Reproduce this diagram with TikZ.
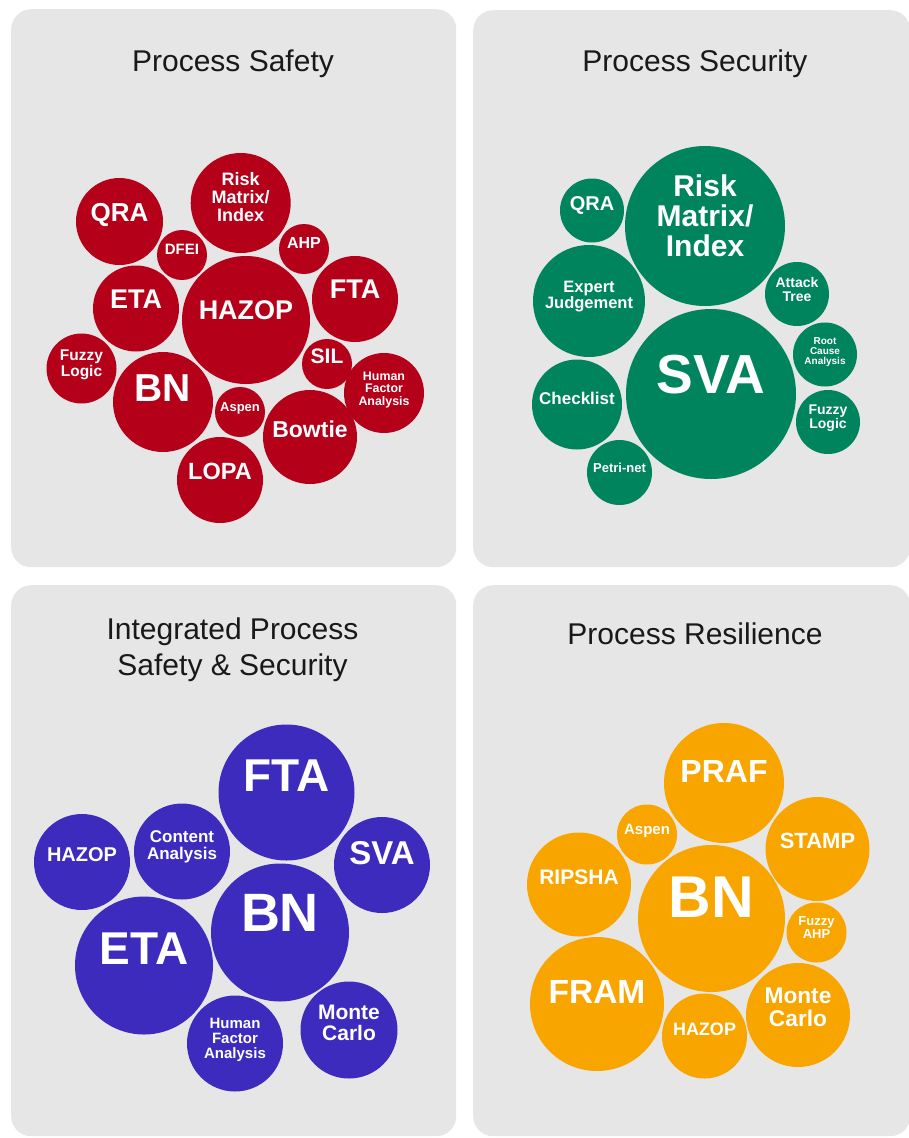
\documentclass[tikz,border=0pt]{standalone}
\usepackage{fontspec}
\setmainfont{Liberation Sans}

\definecolor{panelgray}{RGB}{230,230,230}
\definecolor{titleblack}{RGB}{25,25,25}
\definecolor{safetyred}{RGB}{181,0,26}
\definecolor{securitygreen}{RGB}{0,132,94}
\definecolor{integratedblue}{RGB}{61,43,190}
\definecolor{resilienceorange}{RGB}{249,165,0}

\tikzstyle{panel} = [
    rectangle, rounded corners=20pt, fill=panelgray, 
    anchor=north west, inner sep=0pt
]
\tikzstyle{title} = [
    font=\fontsize{30}{36}\selectfont, text=titleblack, align=center, anchor=base
]
\tikzstyle{bubble} = [circle, inner sep=0pt, text=white, align=center]
\tikzstyle{safety} = [bubble, fill=safetyred]
\tikzstyle{security} = [bubble, fill=securitygreen]
\tikzstyle{integrated} = [bubble, fill=integratedblue]
\tikzstyle{resilience} = [bubble, fill=resilienceorange]
\tikzset{txt/.style={font=\bfseries\fontsize{#1}{#1}\selectfont, text depth=0.72*#1}}

\begin{document}
\begin{tikzpicture}[x=1pt, y=-1pt]

\useasboundingbox (0,0) rectangle (908,1138);

% Paneles
\node (p1) [panel, minimum width=445, minimum height=558] at (11,9)   {};
\node (p2) [panel, minimum width=437, minimum height=557] at (473,10) {};
\node (p3) [panel, minimum width=445, minimum height=551] at (11,585) {};
\node (p4) [panel, minimum width=437, minimum height=551] at (473,585) {};

% Titulos
\node (t1) [title] at (233,71)  {Process Safety};
\node (t2) [title] at (695,71)  {Process Security};
\node (t3) [title, anchor=north] at (232.5,614) {Integrated Process \\ Safety \& Security};
\node (t4) [title] at (695,644) {Process Resilience};

% Process Safety
\node (s-qra)    [safety, txt=26,   minimum size=87]  at (119.5,221.5) {QRA};
\node (s-risk)   [safety, txt=18,   minimum size=100] at (240.7,203)   {Risk \\ Matrix/ \\ Index};
\node (s-dfei)   [safety, txt=15,   minimum size=50]  at (182,255)     {DFEI};
\node (s-ahp)    [safety, txt=16,   minimum size=50]  at (304,249)     {AHP};
\node (s-eta)    [safety, txt=27,   minimum size=86]  at (136,308.5)   {ETA};
\node (s-hazop)  [safety, txt=27,   minimum size=128] at (246,320)     {HAZOP};
\node (s-fta)    [safety, txt=27,   minimum size=86]  at (355,299)     {FTA};
\node (s-fuzzy)  [safety, txt=15.5, minimum size=70]  at (81.5,368.5)  {Fuzzy \\ Logic};
\node (s-bn)     [safety, txt=39,   minimum size=100] at (163,402)     {BN};
\node (s-sil)    [safety, txt=21,   minimum size=50]  at (327,364)     {SIL};
\node (s-hfa)    [safety, txt=12.4, minimum size=80]  at (384,393)     {Human \\ Factor \\ Analysis};
\node (s-aspen)  [safety, txt=13,   minimum size=50]  at (240,412)     {Aspen};
\node (s-bowtie) [safety, txt=23,   minimum size=94]  at (310,437)     {Bowtie};
\node (s-lopa)   [safety, txt=23.5, minimum size=86]  at (220,480)     {LOPA};

% Process Security
\node (c-qra)    [security, txt=20,   minimum size=64]  at (592,210.5)   {QRA};
\node (c-risk)   [security, txt=30,   minimum size=160] at (705,226)     {Risk \\ Matrix/ \\ Index};
\node (c-expert) [security, txt=16.5, minimum size=112] at (589,301)     {Expert \\ Judgement};
\node (c-attack) [security, txt=14,   minimum size=64]  at (797,294)     {Attack \\ Tree};
\node (c-sva)    [security, txt=55,   minimum size=170] at (711,394)     {SVA};
\node (c-root)   [security, txt=10,   minimum size=64]  at (825,354.5)   {Root \\ Cause \\ Analysis};
\node (c-check)  [security, txt=17,   minimum size=90]  at (577,404.5)   {Checklist};
\node (c-fuzzy)  [security, txt=14,   minimum size=64]  at (828,422)     {Fuzzy \\ Logic};
\node (c-petri)  [security, txt=13,   minimum size=65]  at (619.5,472.5) {Petri-net};

% Integrated Process Safety & Security
\node (i-fta)     [integrated, txt=46, minimum size=136] at (286.5,792.5) {FTA};
\node (i-hazop)   [integrated, txt=20, minimum size=96]  at (82,862)      {HAZOP};
\node (i-content) [integrated, txt=17, minimum size=96]  at (182,851.5)   {Content \\ Analysis};
\node (i-sva)     [integrated, txt=33, minimum size=96]  at (382,865)     {SVA};
\node (i-bn)      [integrated, txt=54, minimum size=138] at (280,932.5)   {BN};
\node (i-eta)     [integrated, txt=46, minimum size=138] at (144,965.5)   {ETA};
\node (i-hfa)     [integrated, txt=15, minimum size=96]  at (235,1043.5)  {Human \\ Factor \\ Analysis};
\node (i-monte)   [integrated, txt=21, minimum size=97]  at (349,1030)    {Monte \\ Carlo};

% Process Resilience
\node (r-praf)   [resilience, txt=32,   minimum size=120] at (724,783)     {PRAF};
\node (r-aspen)  [resilience, txt=15,   minimum size=60]  at (647,834.5)   {Aspen};
\node (r-stamp)  [resilience, txt=22,   minimum size=104] at (817.5,849)   {STAMP};
\node (r-ripsha) [resilience, txt=21,   minimum size=104] at (579,884.5)   {RIPSHA};
\node (r-bn)     [resilience, txt=59,   minimum size=147] at (711.5,918.5) {BN};
\node (r-fuzzy)  [resilience, txt=13,   minimum size=60]  at (816.5,932.5) {Fuzzy \\ AHP};
\node (r-fram)   [resilience, txt=33.5, minimum size=134] at (597,1004)    {FRAM};
\node (r-hazop)  [resilience, txt=18,   minimum size=85]  at (704.5,1036)  {HAZOP};
\node (r-monte)  [resilience, txt=22.7, minimum size=104] at (798,1015)    {Monte \\ Carlo};

\end{tikzpicture}
\end{document}
